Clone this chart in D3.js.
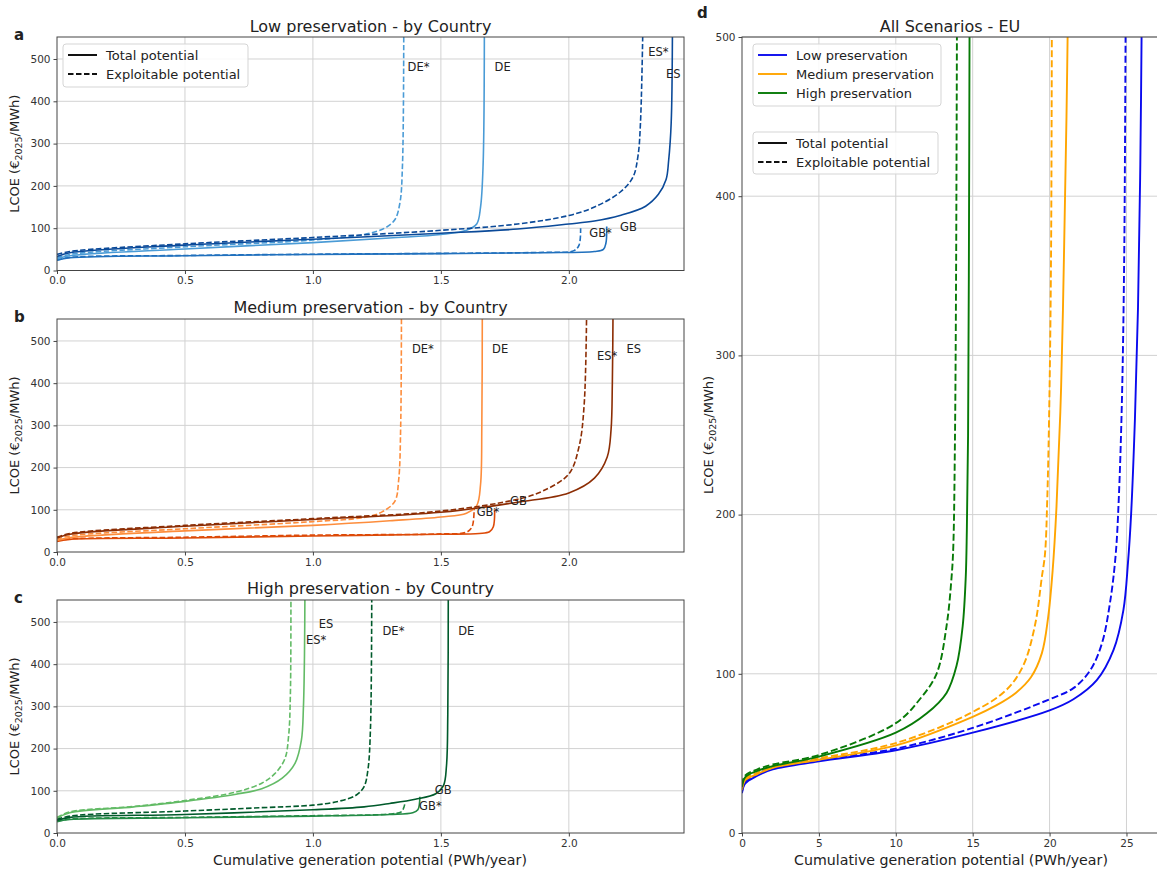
<!DOCTYPE html>
<html lang="en">
<head>
<meta charset="utf-8">
<title>LCOE supply curves</title>
<script src="https://cdn.jsdelivr.net/npm/d3@7"></script>
<style>
body { margin: 0; background: #fff; }
text { font-family: "DejaVu Sans", sans-serif; fill: #222; }
.grid line { stroke: #d2d2d2; stroke-width: 1; }
.axis path, .axis line { stroke: #444; }
.axis text { font-size: 10.5px; fill: #333; font-family: "DejaVu Sans", sans-serif; }
</style>
</head>
<body>
<script>
// ---- data: [cumulative potential (PWh/year), LCOE (EUR2025/MWh)] ----
// Low preservation
const low_ES_total = [[0,33],[0.05,42],[0.5,60],[1.0,74],[1.5,88],[1.8,98],[2.0,110],[2.1,117],[2.2,130],[2.3,152],[2.35,180],[2.38,215],[2.39,260],[2.4,350],[2.405,600]];
const low_ES_expl  = [[0,38],[0.05,45],[0.5,63],[1.0,78],[1.5,95],[1.8,110],[2.0,130],[2.1,150],[2.2,185],[2.25,220],[2.27,270],[2.28,350],[2.29,600]];
const low_DE_total = [[0,28],[0.05,35],[0.5,51],[1.0,66],[1.3,77],[1.5,85],[1.6,95],[1.64,110],[1.655,150],[1.665,250],[1.67,600]];
const low_DE_expl  = [[0,30],[0.05,38],[0.5,56],[1.0,72],[1.2,85],[1.28,100],[1.32,120],[1.34,160],[1.35,250],[1.355,600]];
const low_GB_total = [[0,24],[0.05,30],[0.5,35],[1.0,38],[1.5,40],[1.9,42],[2.1,45],[2.135,50],[2.145,65],[2.148,104]];
const low_GB_expl  = [[0,25],[0.05,31],[0.5,35.5],[1.0,38.5],[1.5,40.5],[1.9,43],[2.02,47],[2.04,60],[2.046,100]];
// Medium preservation
const med_ES_total = [[0,33],[0.05,42],[0.5,61],[1.0,77],[1.5,94],[1.8,118],[2.0,140],[2.1,175],[2.15,225],[2.165,290],[2.17,400],[2.173,600]];
const med_ES_expl  = [[0,35],[0.05,44],[0.5,63],[1.0,79],[1.5,97],[1.8,125],[1.9,145],[2.0,185],[2.04,250],[2.06,350],[2.07,600]];
const med_DE_total = [[0,27],[0.05,34],[0.5,50],[1.0,63],[1.3,74],[1.5,83],[1.6,92],[1.64,110],[1.655,160],[1.66,300],[1.662,600]];
const med_DE_expl  = [[0,30],[0.05,38],[0.5,55],[1.0,72],[1.2,82],[1.27,95],[1.32,120],[1.335,170],[1.343,300],[1.346,600]];
const med_GB_total = [[0,25],[0.05,30],[0.5,33],[1.0,38],[1.5,42],[1.65,44],[1.69,48],[1.705,60],[1.71,101]];
const med_GB_expl  = [[0,27],[0.05,31],[0.5,35],[1.0,40],[1.5,43],[1.6,47],[1.622,60],[1.63,105]];
// High preservation
const high_ES_total = [[0,35],[0.05,48],[0.3,62],[0.5,75],[0.7,92],[0.8,105],[0.88,130],[0.93,165],[0.955,220],[0.963,300],[0.967,420],[0.969,600]];
const high_ES_expl  = [[0,37],[0.05,50],[0.3,63],[0.5,77],[0.7,97],[0.8,118],[0.85,140],[0.89,175],[0.905,230],[0.912,330],[0.914,600]];
const high_DE_total = [[0,30],[0.05,37],[0.5,44],[1.0,55],[1.2,62],[1.3,70],[1.4,80],[1.48,93],[1.51,112],[1.522,160],[1.527,280],[1.529,600]];
const high_DE_expl  = [[0,32],[0.05,40],[0.5,52],[0.8,60],[1.0,66],[1.1,75],[1.17,90],[1.2,110],[1.215,150],[1.225,250],[1.23,600]];
const high_GB_total = [[0,27],[0.05,32],[0.5,36],[1.0,40],[1.3,44],[1.39,48],[1.41,55],[1.418,86]];
const high_GB_expl  = [[0,28],[0.05,33],[0.5,37],[1.0,41],[1.3,45],[1.345,50],[1.355,60],[1.36,72]];
// EU, all scenarios
const eu_low_total  = [[0,25],[0.2,31],[1,36],[2,40],[5,45],[10,52],[15,63],[20,77],[21.55,84],[23.07,96],[24.16,115],[24.8,140],[25.1,170],[25.3,200],[25.55,260],[25.75,330],[25.9,420],[26.0,520]];
const eu_low_expl   = [[0,26],[0.2,32],[1,37],[2,41],[5,46],[10,53],[15,66],[20,84],[21.55,91],[22.63,102],[23.4,119],[23.95,146],[24.3,175],[24.5,210],[24.7,270],[24.85,360],[24.95,520]];
const eu_med_total  = [[0,27],[0.2,33],[1,37],[2,41],[5,46],[10,55],[15,73],[16.5,80],[17.8,88],[18.8,98],[19.5,113],[19.9,135],[20.2,165],[20.45,205],[20.75,280],[20.95,370],[21.1,450],[21.2,520]];
const eu_med_expl   = [[0,28],[0.2,34],[1,38],[2,42],[5,47],[10,56.5],[15,76],[17.2,90],[18.28,105],[19.04,130],[19.5,161],[19.7,175],[19.85,210],[20.0,280],[20.1,370],[20.15,520]];
const eu_high_total = [[0,29],[0.2,35],[1,39],[2,42],[5,48],[10,63],[12,75],[13.3,88],[13.95,105],[14.35,130],[14.55,161],[14.62,190],[14.7,250],[14.75,350],[14.8,520]];
const eu_high_expl  = [[0,30],[0.2,36],[1,40],[2,43],[5,49],[10,69],[11.56,84],[12.65,100],[13.3,130],[13.63,161],[13.74,180],[13.85,250],[13.92,350],[13.98,520]];

// country labels: [text, x, y]
const lowLabels  = [["DE*",1.37,481],["DE",1.71,481],["ES*",2.31,517],["ES",2.38,465],["GB*",2.08,89],["GB",2.20,103]];
const medLabels  = [["DE*",1.387,481],["DE",1.70,481],["ES*",2.11,465],["ES",2.225,481],["GB*",1.64,94],["GB",1.77,120]];
const highLabels = [["ES",1.023,495],["ES*",0.973,457],["DE*",1.272,478],["DE",1.568,478],["GB",1.476,102],["GB*",1.415,64]];

const countryTicksX = [0, 0.5, 1.0, 1.5, 2.0];
const countryTicksY = [0, 100, 200, 300, 400, 500];
const euTicksX = [0, 5, 10, 15, 20, 25];
const euTicksY = [0, 100, 200, 300, 400, 500];

const W = 1157, H = 871;
const svg = d3.select("body").append("svg").attr("width", W).attr("height", H);

const lineGen = (x, y) => d3.line().x(d => x(d[0])).y(d => y(d[1])).curve(d3.curveCatmullRom.alpha(0.5));

function yLabel(x, y) {
  const t = svg.append("text")
    .attr("transform", `translate(${x},${y}) rotate(-90)`)
    .attr("text-anchor", "middle").style("font-size", "13px");
  t.append("tspan").text("LCOE (€");
  t.append("tspan").attr("dy", 3).style("font-size", "9.5px").text("2025");
  t.append("tspan").attr("dy", -3).text("/MWh)");
}

function legendBox(x, y, w, h) {
  svg.append("rect").attr("x", x).attr("y", y).attr("width", w).attr("height", h)
    .attr("rx", 3).attr("fill", "#fff").attr("fill-opacity", 0.85)
    .attr("stroke", "#d5d5d5").attr("stroke-width", 1);
}

function legendItem(x, y, color, dashed, label, lw) {
  svg.append("line").attr("x1", x).attr("x2", x + 29).attr("y1", y).attr("y2", y)
    .attr("stroke", color).attr("stroke-width", lw)
    .attr("stroke-dasharray", dashed ? "5.5,2.5" : null);
  svg.append("text").attr("x", x + 38).attr("y", y).attr("dy", "0.35em")
    .style("font-size", "13px").text(label);
}

function countryPanel(opt) {
  const left = 57, right = 684;
  const x = d3.scaleLinear().domain([0, 2.45]).range([left, right]);
  const y = d3.scaleLinear().domain([0, 552]).range([opt.bottom, opt.top]);
  const g = svg.append("g");
  const clipId = "clip-" + opt.letter;
  g.append("clipPath").attr("id", clipId).append("rect")
    .attr("x", left).attr("y", opt.top).attr("width", right - left).attr("height", opt.bottom - opt.top);

  const grid = g.append("g").attr("class", "grid");
  grid.selectAll(".gx").data(countryTicksX.slice(1)).enter().append("line")
    .attr("x1", d => x(d)).attr("x2", d => x(d)).attr("y1", opt.top).attr("y2", opt.bottom);
  grid.selectAll(".gy").data(countryTicksY.slice(1)).enter().append("line")
    .attr("y1", d => y(d)).attr("y2", d => y(d)).attr("x1", left).attr("x2", right);

  const line = lineGen(x, y);
  const lines = g.append("g").attr("clip-path", `url(#${clipId})`);
  opt.curves.forEach(c => {
    lines.append("path").attr("d", line(c.data)).attr("fill", "none")
      .attr("stroke", c.color).attr("stroke-width", 1.6)
      .attr("stroke-dasharray", c.dashed ? "5.5,2.4" : null);
  });

  g.append("rect").attr("x", left).attr("y", opt.top).attr("width", right - left)
    .attr("height", opt.bottom - opt.top).attr("fill", "none").attr("stroke", "#444").attr("stroke-width", 1);

  g.append("g").attr("class", "axis").attr("transform", `translate(0,${opt.bottom})`)
    .call(d3.axisBottom(x).tickValues(countryTicksX).tickFormat(d3.format(".1f")).tickSizeOuter(0).tickSize(3.5).tickPadding(3))
    .select(".domain").remove();
  g.append("g").attr("class", "axis").attr("transform", `translate(${left},0)`)
    .call(d3.axisLeft(y).tickValues(countryTicksY).tickSizeOuter(0).tickSize(3.5).tickPadding(3))
    .select(".domain").remove();

  opt.labels.forEach(l => {
    g.append("text").attr("x", x(l[1])).attr("y", y(l[2])).attr("dy", "0.35em")
      .style("font-size", "11.5px").text(l[0]);
  });

  svg.append("text").attr("x", (left + right) / 2).attr("y", opt.top - opt.titleGap)
    .attr("text-anchor", "middle").style("font-size", "16px").text(opt.title);
  svg.append("text").attr("x", 14).attr("y", opt.top + 3).style("font-size", "15px")
    .style("font-weight", "bold").text(opt.letter);
  yLabel(19, (opt.top + opt.bottom) / 2);
}

const blues = { ES: "#0b4a99", DE: "#4a9bd6", GB: "#2070bd" };
const oranges = { ES: "#8c2d04", DE: "#fd8d3c", GB: "#dd4a08" };
const greens = { ES: "#63bb66", DE: "#005a2b", GB: "#238b45" };

countryPanel({
  letter: "a", top: 37, bottom: 270.5, titleGap: 5, title: "Low preservation - by Country", labels: lowLabels,
  curves: [
    { data: low_GB_expl, color: blues.GB, dashed: true },
    { data: low_GB_total, color: blues.GB },
    { data: low_DE_expl, color: blues.DE, dashed: true },
    { data: low_DE_total, color: blues.DE },
    { data: low_ES_expl, color: blues.ES, dashed: true },
    { data: low_ES_total, color: blues.ES }
  ]
});
countryPanel({
  letter: "b", top: 319, bottom: 552, titleGap: 6, title: "Medium preservation - by Country", labels: medLabels,
  curves: [
    { data: med_GB_expl, color: oranges.GB, dashed: true },
    { data: med_GB_total, color: oranges.GB },
    { data: med_DE_expl, color: oranges.DE, dashed: true },
    { data: med_DE_total, color: oranges.DE },
    { data: med_ES_expl, color: oranges.ES, dashed: true },
    { data: med_ES_total, color: oranges.ES }
  ]
});
countryPanel({
  letter: "c", top: 600, bottom: 833, titleGap: 6, title: "High preservation - by Country", labels: highLabels,
  curves: [
    { data: high_GB_expl, color: greens.GB, dashed: true },
    { data: high_GB_total, color: greens.GB },
    { data: high_ES_expl, color: greens.ES, dashed: true },
    { data: high_ES_total, color: greens.ES },
    { data: high_DE_expl, color: greens.DE, dashed: true },
    { data: high_DE_total, color: greens.DE }
  ]
});
svg.append("text").attr("x", 370).attr("y", 865).attr("text-anchor", "middle")
  .style("font-size", "14.2px").text("Cumulative generation potential (PWh/year)");

// legend panel a
legendBox(63, 44, 185, 43);
legendItem(68, 55, "#111", false, "Total potential", 2);
legendItem(68, 74, "#111", true, "Exploitable potential", 2);

// ---- panel d ----
{
  const left = 742, right = 1158, top = 37, bottom = 833;
  const x = d3.scaleLinear().domain([0, 27.05]).range([left, right]);
  const y = d3.scaleLinear().domain([0, 500]).range([bottom, top]);
  const g = svg.append("g");
  g.append("clipPath").attr("id", "clip-d").append("rect")
    .attr("x", left).attr("y", top).attr("width", right - left).attr("height", bottom - top);
  const grid = g.append("g").attr("class", "grid");
  grid.selectAll(".gx").data(euTicksX.slice(1)).enter().append("line")
    .attr("x1", d => x(d)).attr("x2", d => x(d)).attr("y1", top).attr("y2", bottom);
  grid.selectAll(".gy").data(euTicksY.slice(1)).enter().append("line")
    .attr("y1", d => y(d)).attr("y2", d => y(d)).attr("x1", left).attr("x2", right);

  const line = lineGen(x, y);
  const lines = g.append("g").attr("clip-path", "url(#clip-d)");
  const curves = [
    { data: eu_low_total, color: "#0a0aee" }, { data: eu_low_expl, color: "#0a0aee", dashed: true },
    { data: eu_med_total, color: "#ffa500" }, { data: eu_med_expl, color: "#ffa500", dashed: true },
    { data: eu_high_total, color: "#077a07" }, { data: eu_high_expl, color: "#077a07", dashed: true }
  ];
  curves.forEach(c => {
    lines.append("path").attr("d", line(c.data)).attr("fill", "none")
      .attr("stroke", c.color).attr("stroke-width", 1.9)
      .attr("stroke-dasharray", c.dashed ? "7,3" : null);
  });
  g.append("rect").attr("x", left).attr("y", top).attr("width", right - left)
    .attr("height", bottom - top).attr("fill", "none").attr("stroke", "#444").attr("stroke-width", 1);
  g.append("g").attr("class", "axis").attr("transform", `translate(0,${bottom})`)
    .call(d3.axisBottom(x).tickValues(euTicksX).tickSizeOuter(0).tickSize(3.5).tickPadding(3))
    .select(".domain").remove();
  g.append("g").attr("class", "axis").attr("transform", `translate(${left},0)`)
    .call(d3.axisLeft(y).tickValues(euTicksY).tickSizeOuter(0).tickSize(3.5).tickPadding(3))
    .select(".domain").remove();

  svg.append("text").attr("x", 950).attr("y", 32).attr("text-anchor", "middle")
    .style("font-size", "16px").text("All Scenarios - EU");
  svg.append("text").attr("x", 697).attr("y", 18).style("font-size", "15px")
    .style("font-weight", "bold").text("d");
  yLabel(713, (top + bottom) / 2);
  svg.append("text").attr("x", 951).attr("y", 865).attr("text-anchor", "middle")
    .style("font-size", "14.2px").text("Cumulative generation potential (PWh/year)");

  legendBox(753, 44, 188, 62);
  legendItem(758, 55, "#0a0aee", false, "Low preservation", 1.9);
  legendItem(758, 74, "#ffa500", false, "Medium preservation", 1.9);
  legendItem(758, 93, "#077a07", false, "High preservation", 1.9);
  legendBox(753, 132, 185, 42);
  legendItem(758, 143, "#111", false, "Total potential", 2);
  legendItem(758, 162, "#111", true, "Exploitable potential", 2);
}
</script>
</body>
</html>
